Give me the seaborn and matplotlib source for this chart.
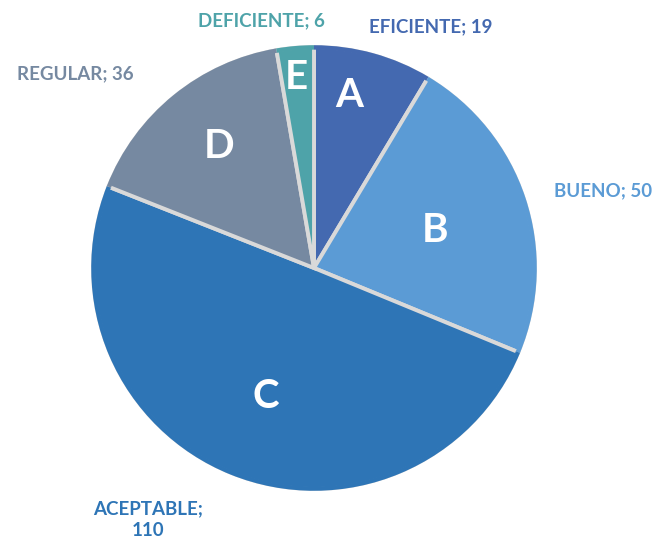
import matplotlib
matplotlib.use("Agg")
import matplotlib.pyplot as plt
import seaborn as sns

# data
categories = ["EFICIENTE", "BUENO", "ACEPTABLE", "REGULAR", "DEFICIENTE"]
letters = ["A", "B", "C", "D", "E"]
values = [19, 50, 110, 36, 6]
colors = ["#4469B0", "#5B9BD5", "#2E75B6", "#7689A1", "#4EA3A9"]

# label placement (in units of pie radius)
label_xy = [(0.53, 1.09), (1.31, 0.35), (-0.75, -1.14), (-1.08, 0.88), (-0.24, 1.12)]
letter_xy = [(0.16, 0.78), (0.55, 0.17), (-0.22, -0.58), (-0.43, 0.55), (-0.08, 0.86)]

sns.set_style("white")
plt.rcParams["font.family"] = ["Lato", "DejaVu Sans"]

fig = plt.figure(figsize=(6.67, 5.49), dpi=100)
R = 221
cx, cy = 314, 268
ax = fig.add_axes([(cx - R) / 667, (549 - cy - R) / 549, 2 * R / 667, 2 * R / 549])

ax.pie(values, colors=colors, startangle=90, counterclock=False,
       radius=1.0, wedgeprops=dict(edgecolor="#D9D9D9", linewidth=2.8))
# thin ring in the slice colours over the rim so the grey outline only shows between slices
ax.pie(values, colors=colors, startangle=90, counterclock=False,
       radius=1.008, wedgeprops=dict(width=0.02, edgecolor="none", linewidth=0))

ax.set_xlim(-1, 1)
ax.set_ylim(-1, 1)
ax.set_aspect("equal")
ax.axis("off")

for cat, v, c, (x, y) in zip(categories, values, colors, label_xy):
    txt = f"{cat};\n{v}" if cat == "ACEPTABLE" else f"{cat}; {v}"
    ax.text(x, y, txt, color=c, fontsize=13.5, fontweight="bold",
            ha="center", va="center", linespacing=1.35, clip_on=False)

for l, (x, y) in zip(letters, letter_xy):
    ax.text(x, y, l, color="white", fontsize=29, fontweight="bold",
            ha="center", va="center")

fig.savefig("out.png", dpi=100)
